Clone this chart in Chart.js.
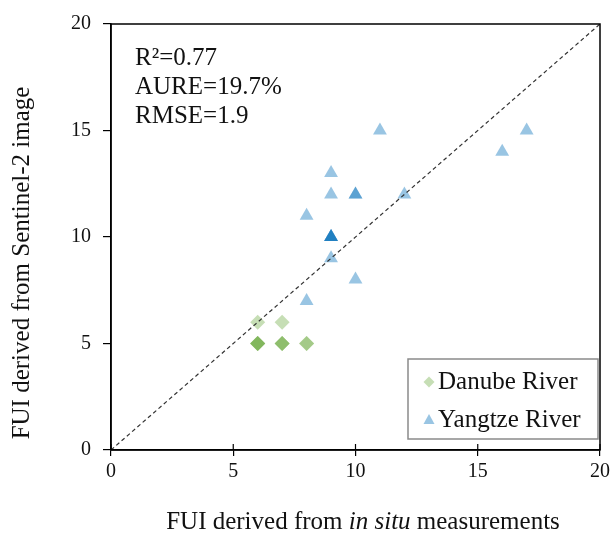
<!DOCTYPE html>
<html><head><meta charset="utf-8">
<script src="https://cdn.jsdelivr.net/npm/chart.js@4/dist/chart.umd.min.js"></script>
<style>html,body{margin:0;padding:0;background:#fff}</style>
</head><body>
<canvas id="c" width="614" height="536"></canvas>
<script>
// Data (duplicates = overlapping points, which darken)
const danubeX = [6, 7, 8, 8, 7, 7, 7, 6, 6, 6, 6];
const danubeY = [6, 6, 5, 5, 5, 5, 5, 5, 5, 5, 5];
const yangtzeX = [11, 17, 16, 9, 9, 10, 10, 12, 8, 9, 9, 9, 9, 9, 10, 8];
const yangtzeY = [15, 15, 14, 13, 12, 12, 12, 12, 11, 10, 10, 10, 10, 9, 8, 7];
const oneToOne = [0, 20];
const tickValues = [0, 5, 10, 15, 20];
const statsLines = ['R\u00B2=0.77', 'AURE=19.7%', 'RMSE=1.9'];
const seriesNames = ['Danube River', 'Yangtze River'];
const xTitleParts = [['FUI derived from ', false], ['in situ', true], [' measurements', false]];
const yTitle = 'FUI derived from Sentinel-2 image';

const SERIF = '"Liberation Serif", "Times New Roman", serif';
const greenA = 'rgba(112,173,71,0.4)';
const blueA = 'rgba(0,110,185,0.4)';

const pts = (xs, ys) => xs.map((x, i) => ({x: x, y: ys[i]}));

const extras = {
  id: 'extras',
  afterDraw(chart) {
    const ctx = chart.ctx, a = chart.chartArea;
    const xs = chart.scales.x;
    ctx.save();
    // box
    ctx.strokeStyle = '#000'; ctx.lineWidth = 1.5;
    ctx.strokeRect(a.left, a.top, a.right - a.left, a.bottom - a.top);
    // inner x ticks
    ctx.lineWidth = 1.2;
    tickValues.forEach(v => {
      const px = xs.getPixelForValue(v);
      ctx.beginPath(); ctx.moveTo(px, a.bottom - 6); ctx.lineTo(px, a.bottom); ctx.stroke();
    });
    // stats
    ctx.fillStyle = '#111';
    ctx.font = '25px ' + SERIF;
    ctx.textBaseline = 'alphabetic'; ctx.textAlign = 'left';
    statsLines.forEach((t, i) => ctx.fillText(t, a.left + 24, a.top + 41 + i * 29));
    // legend
    const lx = 408, ly = 359, lw = 190, lh = 80;
    ctx.fillStyle = '#fff'; ctx.fillRect(lx, ly, lw, lh);
    ctx.strokeStyle = '#8a8a8a'; ctx.lineWidth = 1.5; ctx.strokeRect(lx, ly, lw, lh);
    ctx.fillStyle = greenA;
    ctx.beginPath();
    ctx.moveTo(429, 382 - 5.5); ctx.lineTo(434.5, 382); ctx.lineTo(429, 382 + 5.5); ctx.lineTo(423.5, 382); ctx.closePath(); ctx.fill();
    ctx.fillStyle = blueA;
    ctx.beginPath();
    ctx.moveTo(429, 420 - 6); ctx.lineTo(434.5, 420 + 4); ctx.lineTo(423.5, 420 + 4); ctx.closePath(); ctx.fill();
    ctx.fillStyle = '#111'; ctx.font = '25px ' + SERIF; ctx.textBaseline = 'middle';
    ctx.fillText(seriesNames[0], 438, 382);
    ctx.fillText(seriesNames[1], 438, 420);
    // x title with italic part
    let total = 0;
    const fontN = '25px ' + SERIF, fontI = 'italic 25px ' + SERIF;
    xTitleParts.forEach(p => { ctx.font = p[1] ? fontI : fontN; total += ctx.measureText(p[0]).width; });
    let cx = 363 - total / 2;
    ctx.textBaseline = 'middle';
    xTitleParts.forEach(p => { ctx.font = p[1] ? fontI : fontN; ctx.fillText(p[0], cx, 522); cx += ctx.measureText(p[0]).width; });
    // y title
    ctx.translate(22, 263); ctx.rotate(-Math.PI / 2);
    ctx.font = fontN; ctx.textAlign = 'center'; ctx.textBaseline = 'middle';
    ctx.fillText(yTitle, 0, 0);
    ctx.restore();
  }
};

new Chart(document.getElementById('c'), {
  type: 'scatter',
  data: {
    datasets: [
      { type: 'line', label: '1:1', data: pts(oneToOne, oneToOne), borderColor: '#333', borderWidth: 1.2,
        borderDash: [4, 3], pointRadius: 0, fill: false },
      { label: seriesNames[0], data: pts(danubeX, danubeY), pointStyle: 'rectRot', pointRadius: 7.5,
        backgroundColor: greenA, borderWidth: 0, pointHoverRadius: 7.5 },
      { label: seriesNames[1], data: pts(yangtzeX, yangtzeY), pointStyle: 'triangle', pointRadius: 8,
        backgroundColor: blueA, borderWidth: 0, pointHoverRadius: 8 }
    ]
  },
  options: {
    responsive: false, animation: false, devicePixelRatio: 1,
    layout: { padding: { top: 22, right: 12, left: 0, bottom: 0 } },
    plugins: { legend: { display: false }, tooltip: { enabled: false } },
    scales: {
      x: {
        type: 'linear', min: 0, max: 20,
        afterFit: s => { s.height = 86; },
        afterBuildTicks: s => { s.ticks = tickValues.map(v => ({value: v})); },
        ticks: { color: '#111', font: { family: SERIF, size: 20 }, padding: 4, maxRotation: 0 },
        grid: { drawOnChartArea: false, tickLength: 6, color: '#000', lineWidth: 1.2 },
        border: { color: '#000', width: 1.5 }
      },
      y: {
        type: 'linear', min: 0, max: 20,
        afterFit: s => { s.width = 111; },
        afterBuildTicks: s => { s.ticks = tickValues.map(v => ({value: v})); },
        ticks: { color: '#111', font: { family: SERIF, size: 20 }, padding: 12 },
        grid: { drawOnChartArea: false, tickLength: 8, color: '#000', lineWidth: 1.2 },
        border: { color: '#000', width: 1.5 }
      }
    }
  },
  plugins: [extras]
});
</script>
</body></html>
